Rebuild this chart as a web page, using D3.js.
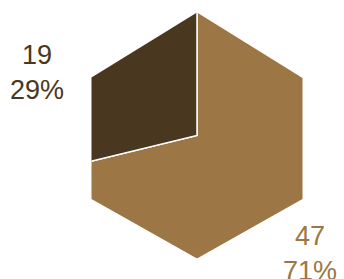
<!DOCTYPE html>
<html>
<head>
<meta charset="utf-8">
<script src="https://cdn.jsdelivr.net/npm/d3@7"></script>
<style>
  html, body { margin: 0; padding: 0; background: #ffffff; }
  svg { display: block; }
  text { font-family: "Liberation Sans", Arial, Helvetica, sans-serif; }
</style>
</head>
<body>
<svg id="chart" width="344" height="279"></svg>
<script>
// ---- data ----
const categories = ["A", "B"];
const values = [47, 19];
const colors = ["#9c7644", "#4a3720"];

// ---- layout ----
const W = 344, H = 279;
const cx = 197, cy = 135.5;
const svg = d3.select("#chart");

// hexagon outline (shape of the pie)
const hex = [[0, -123], [105.5, -57.5], [105.5, 63.5], [0, 123], [-105.5, 63.5], [-105.5, -58]];

const defs = svg.append("defs");
defs.append("clipPath").attr("id", "hexclip")
  .append("polygon")
  .attr("points", hex.map(p => p.join(",")).join(" "));

const pie = d3.pie().sort(null).value(d => d.value);
const arcs = pie(categories.map((c, i) => ({ cat: c, value: values[i], color: colors[i] })));

const arc = d3.arc().innerRadius(0).outerRadius(200);

const g = svg.append("g").attr("transform", `translate(${cx},${cy})`);
g.append("g").attr("clip-path", "url(#hexclip)")
  .selectAll("path").data(arcs).join("path")
  .attr("d", arc)
  .attr("fill", d => d.data.color)
  .attr("stroke", "#ffffff")
  .attr("stroke-width", 1.5)
  .attr("stroke-linejoin", "miter");

// labels
const total = d3.sum(values);
const labelPos = [[113, 109.5], [-160, -72]]; // label anchors relative to centre, per slice
const fmt = d => Math.round(d.data.value / total * 100) + "%";
const lg = g.selectAll("g.lbl").data(arcs).join("g")
  .attr("class", "lbl")
  .attr("transform", (d, i) => `translate(${labelPos[i][0]},${labelPos[i][1]})`);
lg.append("text")
  .attr("text-anchor", "middle")
  .attr("font-size", 27)
  .attr("fill", d => d.data.color)
  .attr("y", 0)
  .text(d => d.data.value);
lg.append("text")
  .attr("text-anchor", "middle")
  .attr("font-size", 27)
  .attr("fill", d => d.data.color)
  .attr("y", 35)
  .text(fmt);
</script>
</body>
</html>
